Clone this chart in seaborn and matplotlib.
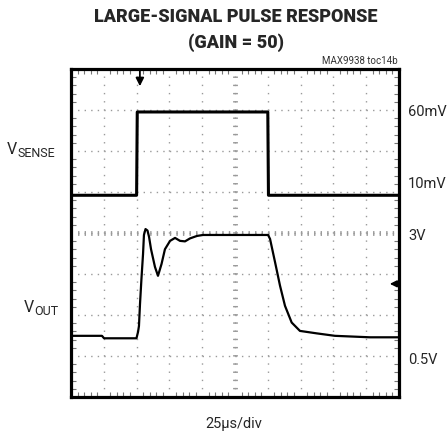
import matplotlib
matplotlib.use("Agg")
import matplotlib.pyplot as plt
import seaborn as sns
import pandas as pd

# scope settings: 25 us/div, VSENSE 25 mV/div, VOUT 2.5 V / 3 div
t_sense = [0, 50, 50.5, 150, 150.5, 250]            # us
v_sense = [8, 8, 58.8, 58.8, 8, 8]                  # mV

t_out = [0, 23.6, 25.2, 49.9, 51.1, 51.8, 52.6, 53.7, 54.9, 55.6, 56.8, 58.3,
         59.5, 61.0, 64.0, 66.3, 69.0, 71.6, 75.5, 79.3, 83.1, 86.9, 90.7,
         96.0, 100.6, 150.2, 151.7, 155.5, 159.3, 163.1, 168.2, 174.5, 187.3,
         201.2, 227.9, 250]
v_out = [0.91, 0.91, 0.86, 0.86, 0.99, 1.11, 1.56, 2.07, 2.57, 2.96, 3.08, 3.05,
         2.92, 2.67, 2.31, 2.13, 2.37, 2.67, 2.84, 2.90, 2.84, 2.83, 2.89,
         2.94, 2.96, 2.96, 2.88, 2.41, 1.93, 1.52, 1.18, 1.01, 0.96,
         0.91, 0.88, 0.88]                           # V

right_labels = ["60mV", "10mV", "3V", "0.5V"]

# convert to screen divisions (0..8 from bottom)
sense_div = [5 + (v - 10) / 25 for v in v_sense]
out_div = [1 + (v - 0.5) / (2.5 / 3) for v in v_out]

sns.set_style("white")
plt.rcParams["font.family"] = ["Roboto", "DejaVu Sans"]
plt.rcParams["lines.scale_dashes"] = False

W, H = 447, 439
fig = plt.figure(figsize=(W / 100, H / 100), dpi=100)
ax = fig.add_axes([71 / W, 1 - 398 / H, 328 / W, 328 / H])

df_s = pd.DataFrame({"t": t_sense, "y": sense_div})
df_o = pd.DataFrame({"t": t_out, "y": out_div})
sns.lineplot(data=df_s, x="t", y="y", estimator=None, sort=False,
             color="black", lw=2.2, ax=ax, zorder=5)
sns.lineplot(data=df_o, x="t", y="y", estimator=None, sort=False,
             color="black", lw=1.6, ax=ax, zorder=5)

ax.set_xlim(0, 250)
ax.set_ylim(0, 8)
ax.set_xticks(range(0, 251, 25))
ax.set_yticks(range(0, 9))
ax.set_xticks([i * 5 for i in range(51)], minor=True)
ax.set_yticks([i * 0.2 for i in range(41)], minor=True)
ax.set_xticklabels([])
ax.set_yticklabels([])
ax.set_xlabel("")
ax.set_ylabel("")
ax.tick_params(which="major", length=0)
ax.tick_params(which="minor", direction="in", length=3.5, width=0.8,
               color="#777777", top=True, bottom=True, left=True, right=True)

grey = "#9a9a9a"
ax.grid(axis="x", color=grey, lw=1.0, ls=(0, (1, 4.9)))
ax.grid(axis="y", color=grey, lw=1.0, ls=(0, (1, 3.72)))
# centre graticule lines with small cross ticks
ax.axvline(125, color=grey, lw=3.5, ls=(0, (1, 4.9)), zorder=1)
ax.axhline(4, color=grey, lw=3.5, ls=(0, (1, 3.72)), zorder=1)

for s in ax.spines.values():
    s.set_linewidth(2.3)
    s.set_color("black")

# trigger and ground markers
ax.annotate("", xy=(52.5, 7.58), xytext=(52.5, 8.0),
            arrowprops=dict(arrowstyle="-|>", color="black", lw=1.3,
                            mutation_scale=12, shrinkA=0, shrinkB=0))
ax.annotate("", xy=(243, 2.76), xytext=(250, 2.76),
            arrowprops=dict(arrowstyle="-|>", color="black", lw=1.2,
                            mutation_scale=10, shrinkA=0, shrinkB=0))

def px(x, y):
    return x / W, 1 - y / H

fig.text(*px(236, 17), "LARGE-SIGNAL PULSE RESPONSE", ha="center", va="center",
         fontsize=13, fontweight="black")
fig.text(*px(236, 43), "(GAIN = 50)", ha="center", va="center",
         fontsize=13, fontweight="black")
fig.text(*px(398, 61.5), "MAX9938 toc14b", ha="right", va="center",
         fontsize=7, color="#333333")

for lab, yy in zip(right_labels, [112.5, 184, 236, 360]):
    fig.text(*px(408, yy), lab, ha="left", va="center", fontsize=10.5)

fig.text(*px(234, 424), "25µs/div", ha="center", va="center", fontsize=10.5)

# channel names: large V followed by a lowered, smaller name
fig.canvas.draw()
renderer = fig.canvas.get_renderer()
for sub, right_x, base_y in [("SENSE", 55, 154), ("OUT", 58, 312)]:
    s_txt = fig.text(*px(right_x, base_y + 3), sub, ha="right", va="baseline",
                     fontsize=9)
    left_px = s_txt.get_window_extent(renderer).x0
    fig.text(left_px / W, 1 - base_y / H, "V", ha="right", va="baseline",
             fontsize=11.5)

fig.savefig("out.png", dpi=100)
